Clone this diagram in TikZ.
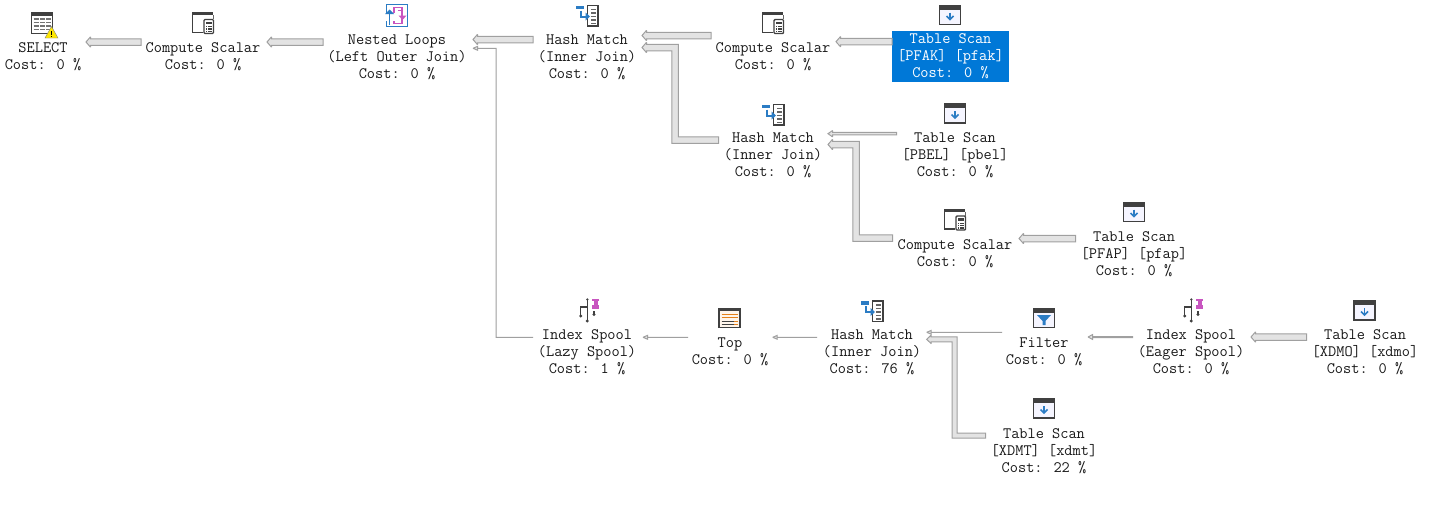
\documentclass[tikz,border=0pt]{standalone}
\usetikzlibrary{calc}
\definecolor{bandfill}{HTML}{E3E3E3}
\definecolor{bandline}{HTML}{A0A0A0}
\definecolor{icondark}{HTML}{404040}
\definecolor{iconblue}{HTML}{2B7CC4}
\definecolor{iconpink}{HTML}{C855C0}
\definecolor{selblue}{HTML}{0078D7}
\tikzset{
  op/.style={align=center,inner sep=0pt,yshift=-1pt,font=\fontsize{15.9}{17}\selectfont\ttfamily,text=black!90},
  band/.style={draw=bandline,fill=bandfill,line width=1pt,miter limit=2},
  tablescan/.pic={
    \draw[icondark,fill=blue!4,line width=1.4pt] (-10.5,-9.5) rectangle (10.5,9.5);
    \fill[icondark] (-11,-10) rectangle (11,-5.5);
    \draw[iconblue,line width=1.6pt] (0,-2.5) -- (0,4);
    \draw[iconblue,line width=1.6pt] (-3.5,1) -- (0,4.5) -- (3.5,1);
  },
  filterpic/.pic={
    \draw[icondark,fill=blue!4,line width=1.4pt] (-10.5,-9.5) rectangle (10.5,9.5);
    \fill[icondark] (-11,-10) rectangle (11,-5.5);
    \fill[iconblue] (-7,-3) -- (7,-3) -- (1.5,3) -- (1.5,7) -- (-1.5,7) -- (-1.5,3) -- cycle;
  },
  computepic/.pic={
    \fill[icondark] (-11,-11) rectangle (10,-8);
    \draw[icondark,line width=1.4pt] (-10.3,-8) -- (-10.3,9.3) -- (0,9.3);
    \draw[black!60,line width=1pt] (10,-8) -- (10,-4);
    \draw[icondark,fill=white,line width=1.4pt,rounded corners=1pt] (1,-3.5) rectangle (10.5,10.5);
    \fill[icondark] (3,-1.5) rectangle (8.5,1);
    \foreach \i in {3,5.2,7.4}\foreach \j in {3,5.4,7.8}{\fill[icondark] (\i,\j) rectangle +(1.3,1.3);}
  },
  selectpic/.pic={
    \draw[icondark,fill=white,line width=1.6pt] (-10.5,-10.5) rectangle (10.5,10.5);
    \fill[icondark] (-11,-11) rectangle (11,-7.5);
    \foreach \y in {-4,-0.5,3,6.5}{\draw[black!55,line width=1.6pt] (-8.5,\y) -- (8.5,\y);}
    \foreach \x in {-3,3}{\draw[white,line width=.8pt] (\x,-6) -- (\x,9);}
    \fill[yellow!90!orange,draw=black!50,line width=.4pt] (9.5,3.5) -- (16,15) -- (3,15) -- cycle;
    \fill[black] (9,7.5) rectangle (10,11.5);
    \fill[black] (9,12.5) rectangle (10,13.7);
  },
  nestedpic/.pic={
    \draw[iconblue,fill=white,line width=1.4pt] (-10.3,-10.8) rectangle (10.3,10.8);
    \draw[iconpink,line width=1.3pt] (-3,-8) -- (5,-8) -- (5,8) -- (-3,8) -- cycle;
    \fill[white] (-12,-3) rectangle (-1,5);
    \draw[iconblue,line width=1.6pt] (-7.5,9) -- (-7.5,-3);
    \fill[iconblue] (-12,-1.5) -- (-7.5,-6) -- (-3,-1.5) -- cycle;
    \draw[iconpink,line width=1.6pt] (1,-5) -- (5.5,-5) -- (5.5,1);
    \fill[iconpink] (1.5,0) -- (5.5,4.5) -- (9.5,0) -- cycle;
  },
  hashpic/.pic={
    \draw[icondark,fill=white,line width=1.5pt] (0.5,-10) rectangle (11,10.5);
    \foreach \y in {-6,-2.5,1,4.5,8}{\draw[black!60,line width=1.2pt] (4,\y) -- (9,\y);}
    \fill[iconblue] (-11.5,-10) rectangle (-3,-6.5);
    \draw[iconblue,line width=2pt] (-6,-5) -- (-6,1) -- (0,1);
    \fill[iconblue] (-1.5,-3) -- (3,1) -- (-1.5,5) -- cycle;
  },
  toppic/.pic={
    \draw[icondark,fill=orange!8,line width=1.6pt] (-10.5,-9) rectangle (10.5,9.5);
    \fill[icondark] (-11,-10) rectangle (11,-7);
    \foreach \y in {-4,-0.5,3,6}{\draw[orange!60!brown,line width=1pt] (-8,\y) -- (8,\y);}
    \draw[icondark,line width=1pt] (-8,3) -- (4,3) (-8,6) -- (4,6);
  },
  spoolpic/.pic={
    \draw[icondark,line width=1.2pt] (-1.7,-10) -- (-1.7,11);
    \draw[icondark,line width=1.2pt] (-8.3,5) -- (-8.3,-3) -- (-1.7,-3);
    \draw[icondark,line width=1.2pt] (5,1) -- (5,4);
    \fill[icondark] (-1.7,-10.5) circle (1.3) (-1.7,11) circle (1.6) (-8.3,6) circle (1.6) (5,4.5) circle (1.6);
    \fill[iconpink] (2.8,-11.5) rectangle (9.8,-9.5);
    \fill[iconpink] (4.5,-9.5) rectangle (8.5,-5);
    \fill[iconpink] (2.8,-5) rectangle (9.8,-1.5);
  }
}
% straight band: width, source node, offset, target node, offset
\newcommand\bandS[5]{%
  \pgfmathsetmacro\hw{#1/2}\pgfmathsetmacro\hh{\hw+1.9}%
  \draw[band] let \p1=($(#2)+(#3)$), \p2=($(#4)+(#5)$) in
    (\x2,\y2) -- (\x2+4.5pt,\y2+\hh pt) -- (\x2+4.5pt,\y2+\hw pt) -- (\x1,\y2+\hw pt)
    -- (\x1,\y2-\hw pt) -- (\x2+4.5pt,\y2-\hw pt) -- (\x2+4.5pt,\y2-\hh pt) -- cycle;}
% elbow band: width, source node, offset, target node, offset, elbow distance from tip
\newcommand\bandE[6]{%
  \pgfmathsetmacro\hw{#1/2}\pgfmathsetmacro\hh{\hw+1.9}%
  \draw[band] let \p1=($(#2)+(#3)$), \p2=($(#4)+(#5)$) in
    (\x2,\y2) -- (\x2+4.5pt,\y2+\hh pt) -- (\x2+4.5pt,\y2+\hw pt)
    -- (\x2+#6pt+\hw pt,\y2+\hw pt) -- (\x2+#6pt+\hw pt,\y1+\hw pt) -- (\x1,\y1+\hw pt)
    -- (\x1,\y1-\hw pt) -- (\x2+#6pt-\hw pt,\y1-\hw pt) -- (\x2+#6pt-\hw pt,\y2-\hw pt)
    -- (\x2+4.5pt,\y2-\hw pt) -- (\x2+4.5pt,\y2-\hh pt) -- cycle;}
\begin{document}
\begin{tikzpicture}[x=1pt,y=-1pt]
\useasboundingbox (0,0) rectangle (1430,509);
\fill[white] (0,0) rectangle (1430,509);
% nodes
\node[op] (sel) at (43,55.5) {SELECT\\Cost: 0 \%};
\node[op] (cs1) at (203,55.5) {Compute Scalar\\Cost: 0 \%};
\node[op] (nl) at (397,56) {Nested Loops\\(Left Outer Join)\\Cost: 0 \%};
\node[op] (hm1) at (587,56) {Hash Match\\(Inner Join)\\Cost: 0 \%};
\node[op] (cs2) at (773,55.5) {Compute Scalar\\Cost: 0 \%};
\node[op,fill=selblue,text=white,minimum width=117pt,minimum height=51pt] (pfak) at (950.5,55.5) {Table Scan\\{[}PFAK] [pfak]\\Cost: 0 \%};
\node[op] (hm2) at (773,154) {Hash Match\\(Inner Join)\\Cost: 0 \%};
\node[op] (pbel) at (955,154) {Table Scan\\{[}PBEL] [pbel]\\Cost: 0 \%};
\node[op] (cs3) at (955,252.5) {Compute Scalar\\Cost: 0 \%};
\node[op] (pfap) at (1134,253) {Table Scan\\{[}PFAP] [pfap]\\Cost: 0 \%};
\node[op] (lazy) at (587,351) {Index Spool\\(Lazy Spool)\\Cost: 1 \%};
\node[op] (top) at (730,350.5) {Top\\Cost: 0 \%};
\node[op] (hm3) at (872,351) {Hash Match\\(Inner Join)\\Cost: 76 \%};
\node[op] (filter) at (1044,350.5) {Filter\\Cost: 0 \%};
\node[op] (eager) at (1191,351) {Index Spool\\(Eager Spool)\\Cost: 0 \%};
\node[op] (xdmo) at (1365,351) {Table Scan\\{[}XDMO] [xdmo]\\Cost: 0 \%};
\node[op] (xdmt) at (1044,450) {Table Scan\\{[}XDMT] [xdmt]\\Cost: 22 \%};
% icons
\pic at (42,23) {selectpic};
\pic at (203,23) {computepic};
\pic at (397,15.5) {nestedpic};
\pic at (587,15.5) {hashpic};
\pic at (773,23) {computepic};
\pic at (950,15) {tablescan};
\pic at (773,114.5) {hashpic};
\pic at (955,113.5) {tablescan};
\pic at (955,219.5) {computepic};
\pic at (1134,212) {tablescan};
\pic at (589,310) {spoolpic};
\pic at (729.5,318) {toppic};
\pic at (872,311) {hashpic};
\pic at (1044,318) {filterpic};
\pic at (1193,310) {spoolpic};
\pic at (1364.5,310.5) {tablescan};
\pic at (1044,408.5) {tablescan};
% connectors
\bandS{6.5}{cs1}{-62,-14.5}{sel}{43,-14.5}
\bandS{6.5}{nl}{-74,-15}{cs1}{64,-14.5}
\bandS{6.5}{hm1}{-54,-17.5}{nl}{76,-17.5}
\bandE{0}{lazy}{-54,-14.7}{nl}{76,-8.7}{23}
\bandS{6.5}{cs2}{-62,-21}{hm1}{55,-21.5}
\bandE{6.5}{hm2}{-54.3,-15}{hm1}{55,-9.5}{33}
\bandS{2.5}{pbel}{-58.3,-21.3}{hm2}{55,-21.3}
\bandE{6.5}{cs3}{-62.3,-15.3}{hm2}{55,-10.5}{28}
\bandS{6.5}{pfap}{-58.3,-15.5}{cs3}{64,-15}
\bandS{6.5}{pfak}{-58.3,-14.8}{cs2}{63,-14.8}
\bandS{0}{top}{-42,-14.2}{lazy}{56,-14.7}
\bandS{0}{hm3}{-55,-14.7}{top}{42.7,-14.2}
\bandS{0}{filter}{-42,-19.2}{hm3}{54.7,-19.7}
\bandE{5}{xdmt}{-58.3,-15.5}{hm3}{54.7,-12.7}{28}
\bandS{1}{eager}{-58.3,-15}{filter}{44,-14.5}
\bandS{6.5}{xdmo}{-58.3,-15}{eager}{60,-15}
\end{tikzpicture}
\end{document}
